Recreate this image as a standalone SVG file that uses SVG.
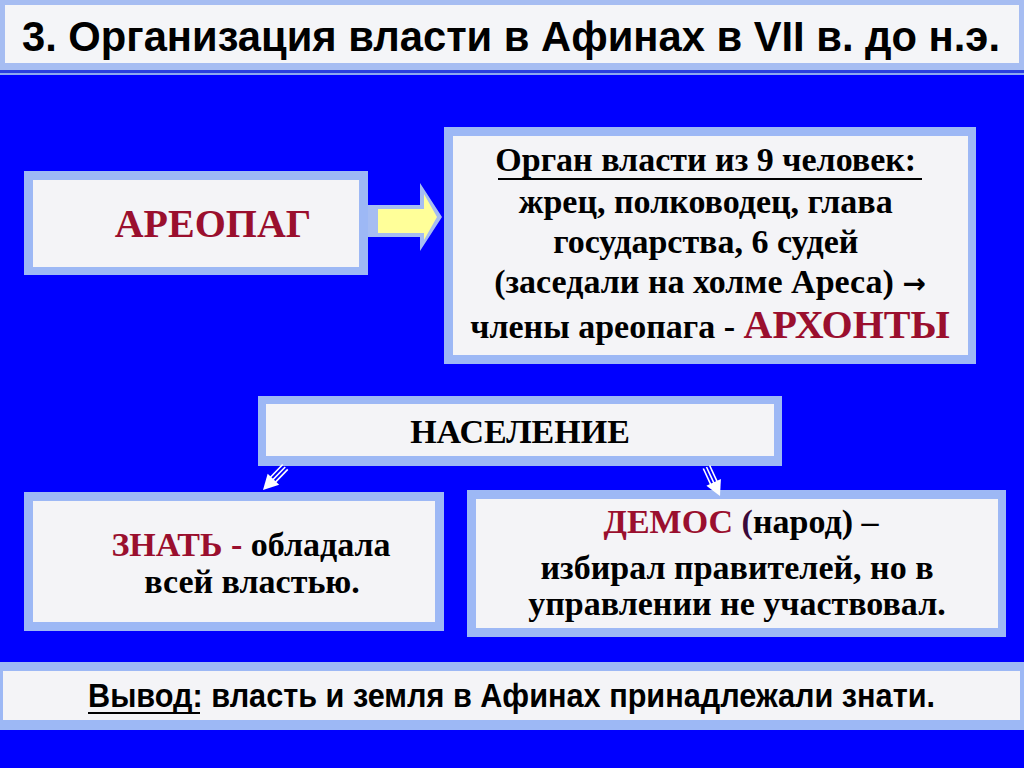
<svg xmlns="http://www.w3.org/2000/svg" xmlns:xlink="http://www.w3.org/1999/xlink" width="1024" height="768" viewBox="0 0 1024 768">
<style>
.outer{fill:#9db8f5}
.inner{fill:#f4f4f7}
.serif{font-family:"Liberation Serif","Times New Roman",serif;font-weight:bold}
.narrow{font-family:"Liberation Sans Narrow","Arial Narrow","Liberation Sans",sans-serif;font-weight:bold}
.red{fill:#9a0f2e}
.blk{fill:#000}
</style>
<defs>
<g id="sarrow">
<polygon points="0,0 -8,-15 8,-15" fill="#ffffff"/>
<line x1="-3.5" y1="-14" x2="-3.5" y2="-32" stroke="#ffffff" stroke-width="1.6"/>
<line x1="0" y1="-14" x2="0" y2="-32" stroke="#ffffff" stroke-width="1.6"/>
<line x1="3.5" y1="-14" x2="3.5" y2="-32" stroke="#ffffff" stroke-width="1.6"/>
</g>
</defs>
<rect x="0" y="0" width="1024" height="768" fill="#0000ff"/>
<g id="title">
<rect x="0" y="0" width="1024" height="70" fill="#a6bdf2"/>
<rect x="5" y="5" width="1014" height="58" fill="#f4f5f8"/>
<rect x="0" y="70" width="1024" height="3" fill="#2a3fe0"/>
<rect x="0" y="73" width="1024" height="2" fill="#8da8f0"/>
<text x="22" y="51" class="narrow" font-size="42" textLength="978" lengthAdjust="spacingAndGlyphs">3. Организация власти в Афинах в VII в. до н.э.</text>
</g>
<g id="areopag">
<rect class="outer" x="24" y="171" width="344" height="104"/>
<rect class="inner" x="33" y="180" width="326" height="87"/>
<text x="213" y="237" class="serif red" font-size="40" text-anchor="middle">АРЕОПАГ</text>
</g>
<g id="archons">
<rect class="outer" x="444" y="127" width="532" height="237"/>
<rect class="inner" x="453" y="136" width="515" height="219"/>
<text class="serif blk" font-size="34" text-anchor="middle">
<tspan x="710" y="171">Орган власти из 9 человек:</tspan>
<tspan x="710" y="213">жрец, полководец, глава</tspan>
<tspan x="710" y="253">государства, 6 судей</tspan>
<tspan x="710" y="293">(заседали на холме Ареса) <tspan font-family="DejaVu Sans, sans-serif" font-size="28">→</tspan></tspan>
</text>
<line x1="498" y1="179" x2="922" y2="179" stroke="#000" stroke-width="2"/>
<text x="710" y="338" class="serif blk" font-size="34" text-anchor="middle">члены ареопага - <tspan class="red" font-size="40">АРХОНТЫ</tspan></text>
</g>
<g id="population">
<rect class="outer" x="258" y="396" width="524" height="70"/>
<rect class="inner" x="266" y="404" width="508" height="52"/>
<text x="520" y="443" class="serif blk" font-size="34" text-anchor="middle">НАСЕЛЕНИЕ</text>
</g>
<g id="nobility">
<rect class="outer" x="24" y="492" width="420" height="139"/>
<rect class="inner" x="33" y="501" width="402" height="121"/>
<text x="251" y="556" class="serif blk" font-size="34" text-anchor="middle"><tspan class="red">ЗНАТЬ - </tspan>обладала</text>
<text x="252" y="593" class="serif blk" font-size="34" text-anchor="middle">всей властью.</text>
</g>
<g id="demos">
<rect class="outer" x="467" y="490" width="539" height="147"/>
<rect class="inner" x="476" y="499" width="522" height="129"/>
<text x="741" y="533" class="serif blk" font-size="34" text-anchor="middle"><tspan class="red">ДЕМОС </tspan><tspan fill="#3a0a3a">(</tspan>народ) –</text>
<text x="737" y="579" class="serif blk" font-size="34" text-anchor="middle">избирал правителей, но в</text>
<text x="737" y="615" class="serif blk" font-size="34" text-anchor="middle">управлении не участвовал.</text>
</g>
<g id="conclusion">
<rect class="outer" x="0" y="662" width="1024" height="68"/>
<rect class="inner" x="3" y="671" width="1017" height="49"/>
<text x="88" y="707" class="narrow blk" font-size="33" textLength="847" lengthAdjust="spacingAndGlyphs">Вывод: власть и земля в Афинах принадлежали знати.</text>
<line x1="88" y1="713" x2="200" y2="713" stroke="#000" stroke-width="2.2"/>
</g>
<g id="connectors">
<path d="M368,205 L420,205 L420,183 L442,217 L420,251 L420,237 L368,237 Z" fill="#a6bdf2"/>
<path d="M378,209 L424,209 L424,194 L437,217 L424,240 L424,233 L378,233 Z" fill="#ffff99"/>
<use xlink:href="#sarrow" transform="translate(263,490) rotate(44)"/>
<use xlink:href="#sarrow" transform="translate(720,496) rotate(-25)"/>
</g>
</svg>
